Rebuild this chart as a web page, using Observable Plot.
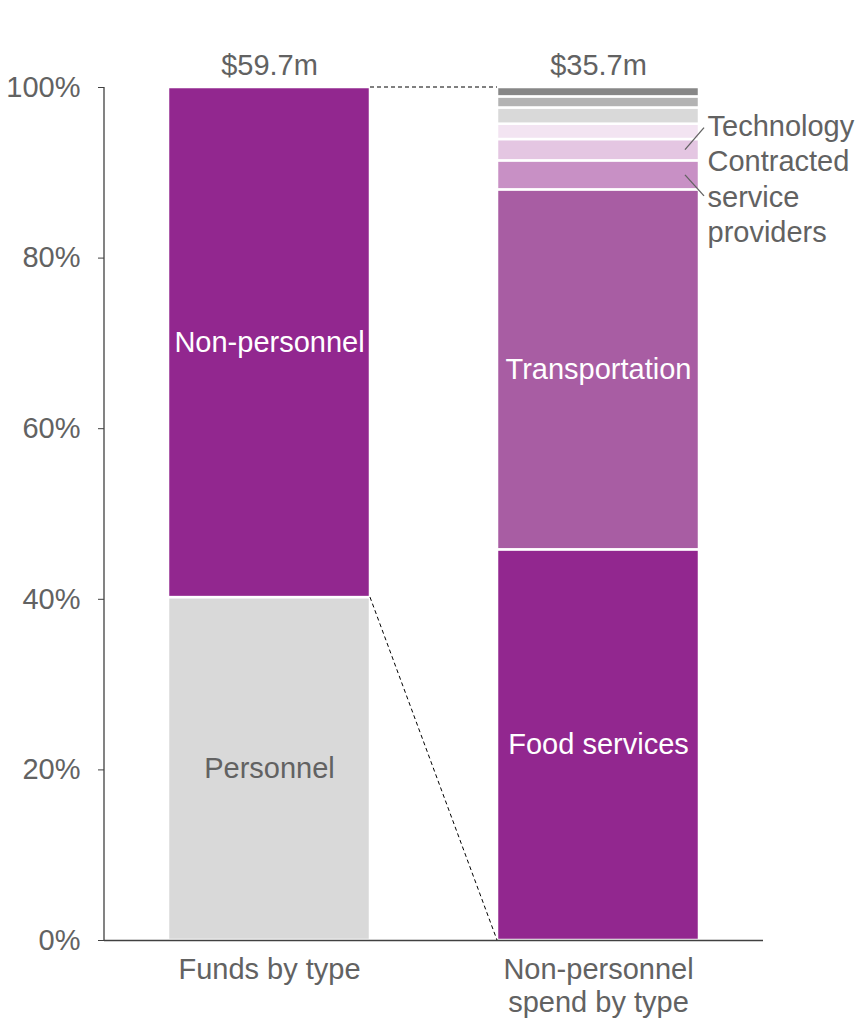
<!DOCTYPE html>
<html><head><meta charset="utf-8">
<script src="https://cdn.jsdelivr.net/npm/d3@7"></script>
<script src="https://cdn.jsdelivr.net/npm/@observablehq/plot@0.6"></script>
<style>body{margin:0;background:#fff;font-family:"Liberation Sans",Arial,sans-serif}</style>
</head><body><div id="chart"></div>
<script>
// ---- data ----
const groups = ["Funds by type", "Non-personnel\nspend by type"];
const totals = ["$59.7m", "$35.7m"];
const fundTypes = ["Personnel", "Non-personnel"];
const fundShares = [40.2, 59.8];
const spendTypes = ["Food services", "Transportation", "Contracted service providers", "Technology", "Other 1", "Other 2", "Other 3", "Other 4"];
const spendShares = [45.8, 42.2, 3.4, 2.5, 1.8, 1.9, 1.3, 1.1];
const yTicks = [0, 20, 40, 60, 80, 100];
const inBarWhite = ["Non-personnel", "Food services", "Transportation"];
const inBarGrey = ["Personnel"];
const sideLabels = ["Technology", "Contracted service providers"];
const sideLabelText = ["Technology", "Contracted\nservice\nproviders"];

// ---- styles ----
const segmentDomain = [...fundTypes, ...spendTypes];
const palette = ["#D9D9D9", "#92278F", "#92278F", "#A85DA3", "#C890C5", "#E4C6E2", "#F3E4F2", "#D9D9D9", "#B3B3B3", "#878787"];
const grey = "#626262";
const FS = 29;

const rows = [
  ...fundTypes.map((s, i) => ({group: groups[0], segment: s, value: fundShares[i]})),
  ...spendTypes.map((s, i) => ({group: groups[1], segment: s, value: spendShares[i]}))
];
const totalRows = groups.map((g, i) => ({group: g, total: totals[i]}));

function overlay(index, scales, values, dimensions) {
  const x = scales.x, y = scales.y;
  const bw = x.bandwidth ? x.bandwidth() : scales.scales.x.bandwidth;
  const g = d3.create("svg:g");
  const leftR = x(groups[0]) + bw, rightL = x(groups[1]), rightR = x(groups[1]) + bw;
  // connectors
  const conn = [
    [leftR, y(100), rightL, y(100)],
    [leftR, y(fundShares[0]), rightL, y(0)]
  ];
  g.selectAll("line.c").data(conn).join("line")
    .attr("x1", d => d[0]).attr("y1", d => d[1]).attr("x2", d => d[2]).attr("y2", d => d[3])
    .attr("stroke", "#000").attr("stroke-width", 1).attr("stroke-dasharray", "4,3");
  // leader lines
  const cum = d3.cumsum(spendShares);
  const mid = i => y((cum[i] - spendShares[i] / 2));
  const ti = spendTypes.indexOf("Technology"), ci = spendTypes.indexOf("Contracted service providers");
  const leaders = [
    [rightR - 14, mid(ti), rightR + 5, mid(ti) - 22],
    [rightR - 14, mid(ci), rightR + 5, mid(ci) + 21]
  ];
  g.selectAll("line.l").data(leaders).join("line")
    .attr("x1", d => d[0]).attr("y1", d => d[1]).attr("x2", d => d[2]).attr("y2", d => d[3])
    .attr("stroke", grey).attr("stroke-width", 1.3);
  // y axis line
  g.append("line")
    .attr("x1", dimensions.marginLeft).attr("x2", dimensions.marginLeft)
    .attr("y1", dimensions.marginTop).attr("y2", dimensions.height - dimensions.marginBottom)
    .attr("stroke", "#404040").attr("stroke-width", 1.3);
  return g.node();
}

const plot = Plot.plot({
  width: 863, height: 1020,
  marginTop: 87, marginBottom: 80, marginLeft: 104, marginRight: 100,
  style: {fontFamily: "'Liberation Sans', Arial, sans-serif", fontSize: FS + "px", color: grey, background: "white"},
  x: {domain: groups, paddingInner: 0.386, paddingOuter: 0.1945, label: null},
  y: {domain: [0, 100], label: null},
  color: {domain: segmentDomain, range: palette},
  marks: [
    Plot.barY(rows, Plot.stackY({x: "group", y: "value", fill: "segment", stroke: "white", strokeWidth: 2.5, order: null})),
    Plot.text(rows, Plot.stackY({x: "group", y: "value", order: null,
      text: d => inBarWhite.includes(d.segment) ? d.segment : "", fill: "white", fontSize: FS})),
    Plot.text(rows, Plot.stackY({x: "group", y: "value", order: null,
      text: d => inBarGrey.includes(d.segment) ? d.segment : "", fill: grey, fontSize: FS})),
    Plot.text(rows, Plot.stackY({x: "group", y: "value", order: null,
      text: d => d.segment === sideLabels[0] ? sideLabelText[0] : "",
      fill: grey, fontSize: FS, textAnchor: "start", dx: 109, dy: -23})),
    Plot.text(rows, Plot.stackY({x: "group", y: "value", order: null,
      text: d => d.segment === sideLabels[1] ? sideLabelText[1] : "",
      fill: grey, fontSize: FS, textAnchor: "start", lineAnchor: "top", lineHeight: 1.22, dx: 109, dy: -29})),
    Plot.text(totalRows, {x: "group", frameAnchor: "top", lineAnchor: "middle", text: "total", fill: grey, fontSize: FS, dy: -22}),
    Plot.ruleY([0], {stroke: "#404040", strokeWidth: 1.3}),
    Plot.axisY({ticks: yTicks, tickFormat: d => d + "%", tickSize: 6, tickPadding: 18, stroke: "#404040", fill: grey, fontSize: FS, label: null}),
    Plot.axisX({tickSize: 0, tickPadding: 15, fill: grey, fontSize: FS, lineHeight: 1.14, label: null}),
    overlay
  ]
});
document.getElementById("chart").appendChild(plot);
</script>
</body></html>
